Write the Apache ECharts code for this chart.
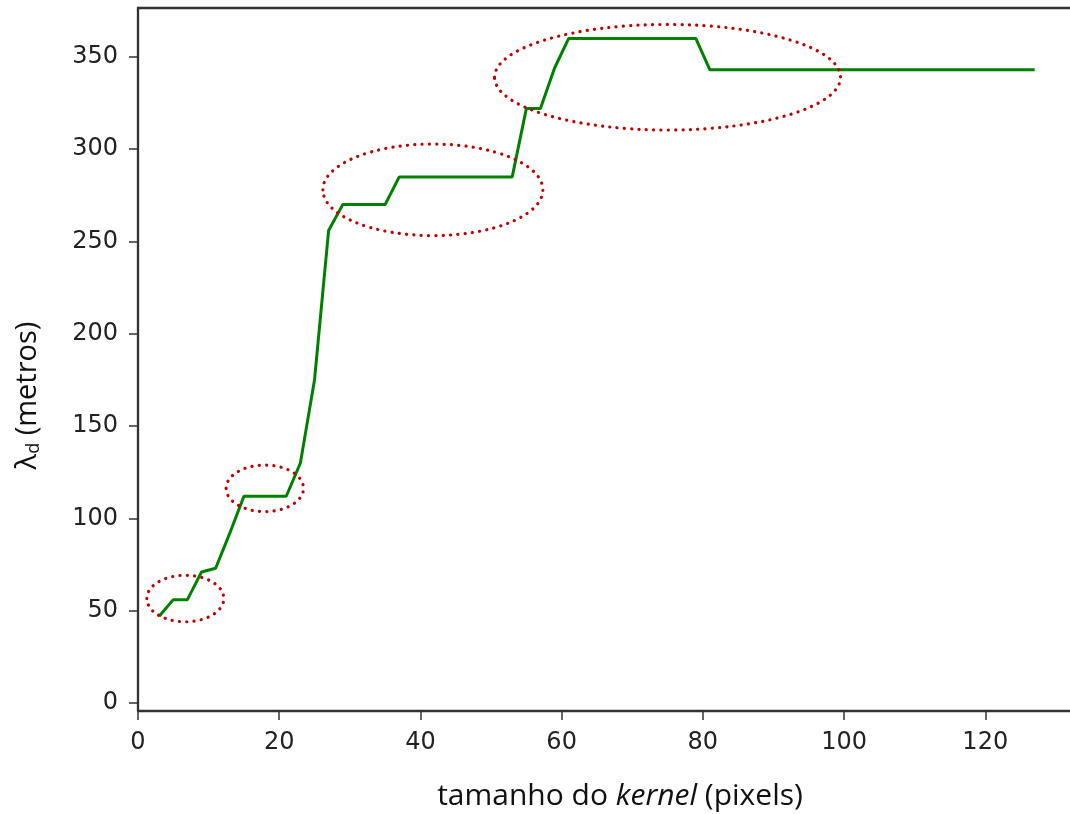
<!DOCTYPE html>
<html>
<head>
<meta charset="utf-8">
<script src="https://cdn.jsdelivr.net/npm/echarts@6/dist/echarts.min.js"></script>
<style>
  html, body { margin: 0; padding: 0; background: #fff; }
  #main { width: 1070px; height: 814px; }
</style>
</head>
<body>
<div id="main"></div>
<script>
// tamanho do kernel (pixels)
var kernel = [3, 5, 7, 9, 11, 13, 15, 17, 19, 21, 23, 25, 27, 29, 31, 33, 35, 37, 39, 41, 43, 45, 47, 49, 51, 53,
  55, 57, 59, 61, 63, 65, 67, 69, 71, 73, 75, 77, 79, 81, 83, 85, 87, 89, 91, 93, 95, 97, 99, 101, 103, 105,
  107, 109, 111, 113, 115, 117, 119, 121, 123, 125, 127]
// lambda_d (metros)
var lambdaD = [47, 56, 56, 71, 73, 92, 112, 112, 112, 112, 130, 175, 256, 270, 270, 270, 270, 285, 285, 285, 285,
  285, 285, 285, 285, 285, 322, 322, 344, 360, 360, 360, 360, 360, 360, 360, 360, 360, 360, 343, 343, 343, 343,
  343, 343, 343, 343, 343, 343, 343, 343, 343, 343, 343, 343, 343, 343, 343, 343, 343, 343, 343, 343]
var xTicks = [0, 20, 40, 60, 80, 100, 120]
var yTicks = [0, 50, 100, 150, 200, 250, 300, 350]
// dotted highlight ellipses: [cx, cy, rx, ry] in data units
var ellipses = [
  [6.7, 56.6, 5.45, 12.6],
  [17.96, 116.3, 5.48, 12.6],
  [41.76, 278, 15.58, 24.8],
  [75, 339, 24.5, 28.6],
]

var myChart = echarts.init(document.getElementById('main'))

var axisColor = '#333'
var tickFont = { fontFamily: 'DejaVu Sans', fontSize: 24, color: '#222' }

var option = {
  animation: false,
  grid: { left: 138, top: 8, right: 0, bottom: 103, containLabel: false, outerBoundsMode: 'none' },
  xAxis: [
    {
      type: 'value',
      min: 0,
      max: 132,
      axisLine: { show: true, onZero: false, lineStyle: { color: axisColor, width: 2.3 } },
      axisTick: { show: true, length: 9, customValues: xTicks, lineStyle: { color: axisColor, width: 1.5 } },
      axisLabel: Object.assign({ customValues: xTicks, margin: 20 }, tickFont),
      splitLine: { show: false },
      name: '{n|tamanho do }{i|kernel}{n| (pixels)}',
      nameLocation: 'middle',
      nameGap: 70,
      nameTextStyle: {
        padding: [0, 0, 0, 32],
        rich: {
          n: { fontFamily: 'Open Sans', fontSize: 30, color: '#111' },
          i: { fontFamily: 'Open Sans', fontSize: 30, fontStyle: 'italic', color: '#111' },
        },
      },
    },
    {
      type: 'value',
      position: 'top',
      min: 0,
      max: 132,
      axisLine: { show: true, onZero: false, lineStyle: { color: axisColor, width: 2.3 } },
      axisTick: { show: false },
      axisLabel: { show: false },
      splitLine: { show: false },
    },
  ],
  yAxis: {
    type: 'value',
    min: -4.33,
    max: 376.5,
    axisLine: { show: true, onZero: false, lineStyle: { color: axisColor, width: 2.3 } },
    axisTick: { show: true, length: 9, customValues: yTicks, lineStyle: { color: axisColor, width: 1.5 } },
    axisLabel: Object.assign({ customValues: yTicks, margin: 20 }, tickFont),
    splitLine: { show: false },
    name: '{l|λ}{s|d}{l| (metros)}',
    nameLocation: 'middle',
    nameRotate: 90,
    nameGap: 93,
    nameTextStyle: {
      padding: [0, 72, 0, 0],
      rich: {
        l: { fontFamily: 'Open Sans', fontSize: 29, color: '#111', lineHeight: 34 },
        s: { fontFamily: 'Open Sans', fontSize: 18, color: '#111', padding: [12, 0, 0, 0], lineHeight: 34 },
      },
    },
  },
  series: [
    {
      type: 'line',
      data: kernel.map(function (k, i) { return [k, lambdaD[i]] }),
      symbol: 'none',
      lineStyle: { color: '#008000', width: 3 },
      z: 3,
    },
  ],
}
myChart.setOption(option)

// dotted red ellipses placed through the chart's own scales
var graphics = ellipses.map(function (e) {
  var c = myChart.convertToPixel({ gridIndex: 0 }, [e[0], e[1]])
  var ex = myChart.convertToPixel({ gridIndex: 0 }, [e[0] + e[2], e[1] + e[3]])
  return {
    type: 'ellipse',
    shape: { cx: c[0], cy: c[1], rx: ex[0] - c[0], ry: c[1] - ex[1] },
    style: { fill: null, stroke: '#c00000', lineWidth: 3.2, lineDash: [0.1, 7.2], lineCap: 'round' },
    z: 10,
  }
})
myChart.setOption({ graphic: graphics })
</script>
</body>
</html>
